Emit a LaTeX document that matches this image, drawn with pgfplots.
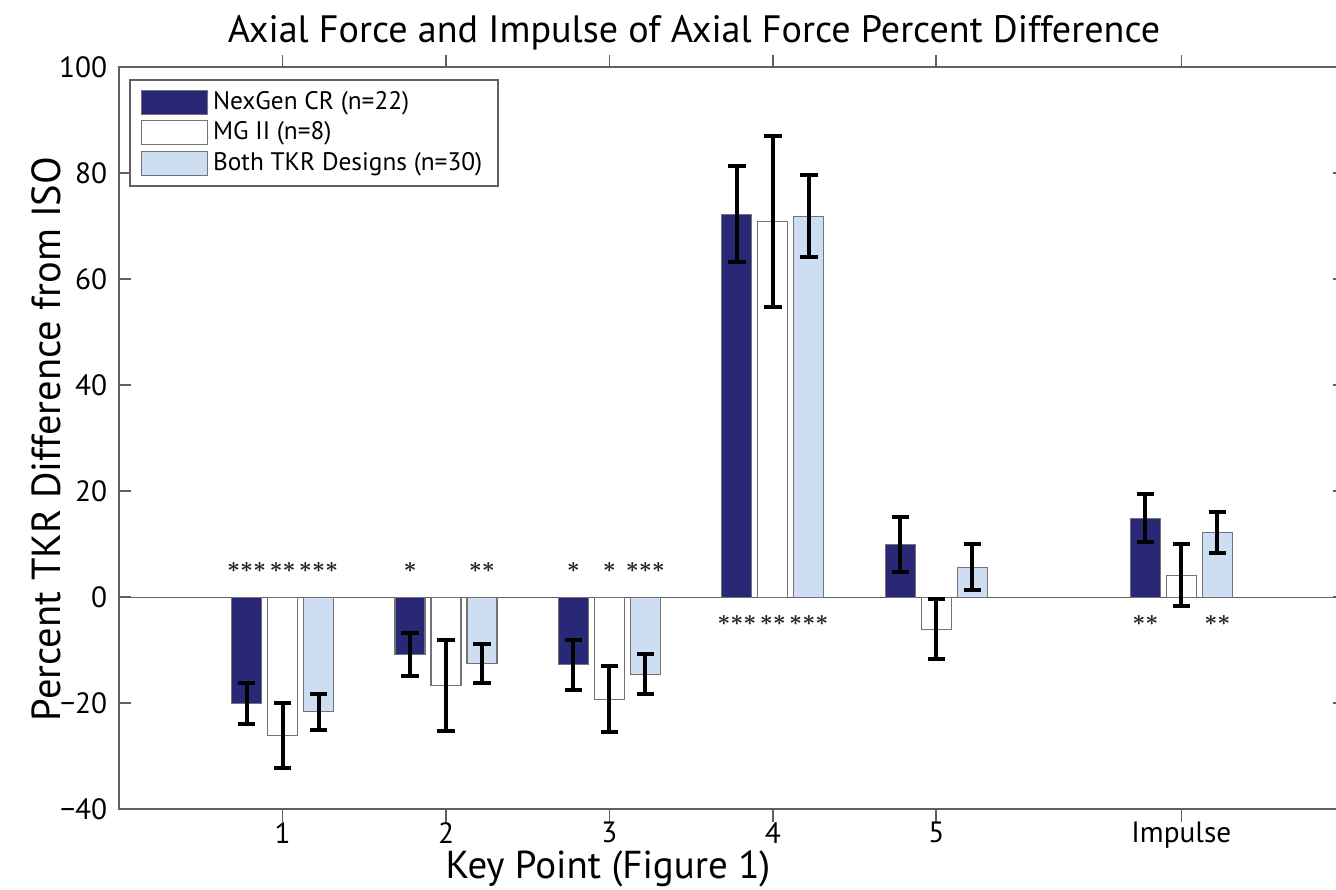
\documentclass[border=0pt]{standalone}
\usepackage{pgfplots}
\pgfplotsset{compat=1.18}
\usepackage{amsmath}
\usepackage{fontspec}
\setmainfont{PT Sans}
\definecolor{navy}{RGB}{40,40,118}
\definecolor{lightb}{RGB}{205,222,242}
\definecolor{axisgray}{RGB}{95,95,95}
\begin{document}
\begin{tikzpicture}
\begin{axis}[
  at={(0pt,0pt)}, anchor=south west,
  scale only axis, width=459.6pt, height=278.25pt,
  xmin=0, xmax=7.5, ymin=-40, ymax=100,
  xtick={1,2,3,4,5,6.5}, xticklabels={1,2,3,4,5,Impulse},
  ytick={-40,-20,0,20,40,60,80,100},
  yticklabels={−40,−20,0,20,40,60,80,100},
  tick align=inside, tick pos=both, major tick length=4.6pt,
  axis line style={axisgray, line width=0.6pt},
  every tick/.style={axisgray, line width=0.6pt},
  ticklabel style={font=\fontsize{11}{13}\selectfont},
  xticklabel style={yshift=3.2pt},
  yticklabel style={xshift=-1pt},
  ybar=2.25pt, bar width=11.25pt,
  legend image code/.code={\draw[#1] (0pt,-4.5pt) rectangle (24.75pt,4.5pt);},
  legend style={at={(0.0082,0.9842)}, anchor=north west, draw=axisgray, line width=0.6pt,
    font=\fontsize{9.5}{10}\selectfont, row sep=-0.8pt, inner xsep=4pt, inner ysep=2.3pt,
    /tikz/every even column/.append style={column sep=3pt}},
  legend cell align=left,
  error bars/error bar style={black, line width=1.5pt},
  error bars/error mark options={black, line width=1.5pt, mark size=3.25pt, rotate=90},
  clip=false,
]
\draw[axisgray, line width=0.5pt] (axis cs:0,0) -- (axis cs:7.5,0);

\addplot[fill=navy, draw=black!55, line width=0.4pt,
  error bars/.cd, y dir=both, y explicit]
  coordinates {(1,-20.0) +- (0,3.9) (2,-10.8) +- (0,4.0) (3,-12.7) +- (0,4.7)
               (4,72.3) +- (0,9.05) (5,10.0) +- (0,5.2) (6.5,14.9) +- (0,4.55)};
\addplot[fill=white, draw=black!55, line width=0.4pt,
  error bars/.cd, y dir=both, y explicit]
  coordinates {(1,-26.0) +- (0,6.15) (2,-16.7) +- (0,8.6) (3,-19.2) +- (0,6.3)
               (4,70.9) +- (0,16.2) (5,-6.0) +- (0,5.6) (6.5,4.2) +- (0,5.9)};
\addplot[fill=lightb, draw=black!55, line width=0.4pt,
  error bars/.cd, y dir=both, y explicit]
  coordinates {(1,-21.6) +- (0,3.35) (2,-12.45) +- (0,3.7) (3,-14.5) +- (0,3.75)
               (4,71.9) +- (0,7.75) (5,5.7) +- (0,4.35) (6.5,12.2) +- (0,3.8)};
\legend{NexGen CR (n=22), MG II (n=8), Both TKR Designs (n=30)}

\tikzset{ast/.style={inner sep=0pt, font=\fontsize{8.4}{9}\selectfont, text=black!85}}
% significance markers
\node[ast] at (axis cs:0.78,5.66) {${\boldsymbol{\ast}}{\boldsymbol{\ast}}{\boldsymbol{\ast}}$};
\node[ast] at (axis cs:1.00,5.66) {${\boldsymbol{\ast}}{\boldsymbol{\ast}}$};
\node[ast] at (axis cs:1.22,5.66) {${\boldsymbol{\ast}}{\boldsymbol{\ast}}{\boldsymbol{\ast}}$};
\node[ast] at (axis cs:1.78,5.66) {${\boldsymbol{\ast}}$};
\node[ast] at (axis cs:2.22,5.66) {${\boldsymbol{\ast}}{\boldsymbol{\ast}}$};
\node[ast] at (axis cs:2.78,5.66) {${\boldsymbol{\ast}}$};
\node[ast] at (axis cs:3.00,5.66) {${\boldsymbol{\ast}}$};
\node[ast] at (axis cs:3.22,5.66) {${\boldsymbol{\ast}}{\boldsymbol{\ast}}{\boldsymbol{\ast}}$};
\node[ast] at (axis cs:3.78,-4.4) {${\boldsymbol{\ast}}{\boldsymbol{\ast}}{\boldsymbol{\ast}}$};
\node[ast] at (axis cs:4.00,-4.4) {${\boldsymbol{\ast}}{\boldsymbol{\ast}}$};
\node[ast] at (axis cs:4.22,-4.4) {${\boldsymbol{\ast}}{\boldsymbol{\ast}}{\boldsymbol{\ast}}$};
\node[ast] at (axis cs:6.28,-4.4) {${\boldsymbol{\ast}}{\boldsymbol{\ast}}$};
\node[ast] at (axis cs:6.72,-4.4) {${\boldsymbol{\ast}}{\boldsymbol{\ast}}$};
\end{axis}
\begin{scope}[shift={(-44.7pt,303.49pt)}, x=0.375pt, y=-0.375pt]
  \node[font=\fontsize{14.3}{16}\selectfont] at (694,33) {Axial Force and Impulse of Axial Force Percent Difference};
  \node[font=\fontsize{14.6}{16}\selectfont] at (608,869) {Key Point (Figure 1)};
  \node[font=\fontsize{15.2}{17}\selectfont, rotate=90] at (46,439) {Percent TKR Difference from ISO};
\end{scope}
\pgfresetboundingbox
\path (-44.7pt,-30.26pt) rectangle (456.3pt,303.49pt);
\end{tikzpicture}
\end{document}
